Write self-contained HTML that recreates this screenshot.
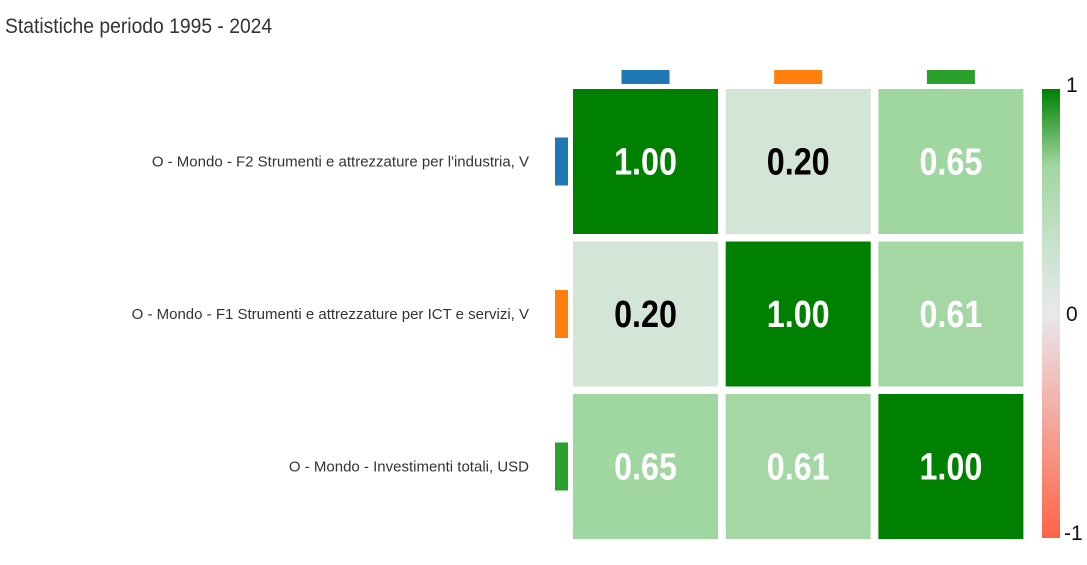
<!DOCTYPE html>
<html><head><meta charset="utf-8"><style>
body{margin:0;background:#fff;width:1087px;height:560px;overflow:hidden;font-family:"Liberation Sans Narrow","Liberation Sans",sans-serif}
</style></head><body>
<svg id="chart" width="1087" height="560" xmlns="http://www.w3.org/2000/svg">
<defs><linearGradient id="cb" x1="0" y1="0" x2="0" y2="1">
<stop offset="0" stop-color="#008000"/><stop offset="0.17" stop-color="#a0d6a0"/><stop offset="0.4" stop-color="#d3e5d7"/><stop offset="0.5" stop-color="#e9e7ec"/><stop offset="1" stop-color="#ff6347"/></linearGradient></defs>
<text x="5" y="33" font-size="21" fill="#333" transform="scale(0.92,1)" style="transform-origin:5px 33px">Statistiche periodo 1995 - 2024</text>
<g id="cells"></g>
<rect x="1042" y="89" width="18" height="449" fill="url(#cb)"/>
<text x="1066" y="92" font-size="21" fill="#111">1</text>
<text x="1066" y="321" font-size="21" fill="#111">0</text>
<text x="1064" y="540" font-size="21" fill="#111">-1</text>
</svg>
<script>
const labels=["O - Mondo - F2 Strumenti e attrezzature per l'industria, V","O - Mondo - F1 Strumenti e attrezzature per ICT e servizi, V","O - Mondo - Investimenti totali, USD"];
const seriesColors=["#1f77b4","#ff7f0e","#2ca02c"];
const row0=[1.00,0.20,0.65];
const row1=[0.20,1.00,0.61];
const row2=[0.65,0.61,1.00];
const matrix=[row0,row1,row2];
const NS="http://www.w3.org/2000/svg";
const g=document.getElementById('cells');
const x0=573,y0=89,step=152.7,size=145;
const xPos=i=>x0+i*step, yPos=i=>y0+i*152.5;
const stops=[[-1,[255,99,71]],[0,[233,231,236]],[0.2,[211,229,215]],[0.65,[160,214,160]],[1,[0,128,0]]];
function color(v){for(let i=0;i<stops.length-1;i++){const[a,ca]=stops[i],[b,cb]=stops[i+1];if(v<=b){const t=(v-a)/(b-a);return 'rgb('+ca.map((c,k)=>Math.round(c+(cb[k]-c)*t)).join(',')+')';}}return 'rgb(0,128,0)';}
function mk(tag,attrs){const e=document.createElementNS(NS,tag);for(const k in attrs)e.setAttribute(k,attrs[k]);g.appendChild(e);return e;}
labels.forEach((l,i)=>{
 const t=mk('text',{x:529,y:yPos(i)+size/2+5,'font-size':15,fill:'#333','text-anchor':'end'});
 t.textContent=l;
 
 
 const m=mk('rect',{x:555,y:yPos(i)+size/2-24,width:13,height:48,fill:seriesColors[i]});
 
 
 const c=mk('rect',{x:xPos(i)+size/2-24,y:70,width:48,height:14,fill:seriesColors[i]});
 
 
});
matrix.forEach((row,r)=>row.forEach((v,c)=>{
 const rc=mk('rect',{x:xPos(c),y:yPos(r),width:size,height:size,fill:color(v)});
 
 
 const cx=xPos(c)+size/2;
 const t=mk('text',{x:cx,y:yPos(r)+size/2+13,'font-size':38,'font-weight':'bold','text-anchor':'middle',fill:(v>0.1&&v<0.4)?'#000':'#fff',transform:'translate('+cx+',0) scale(0.85,1) translate('+(-cx)+',0)'});
 t.textContent=v.toFixed(2);
 
 
}));
</script>
</body></html>
